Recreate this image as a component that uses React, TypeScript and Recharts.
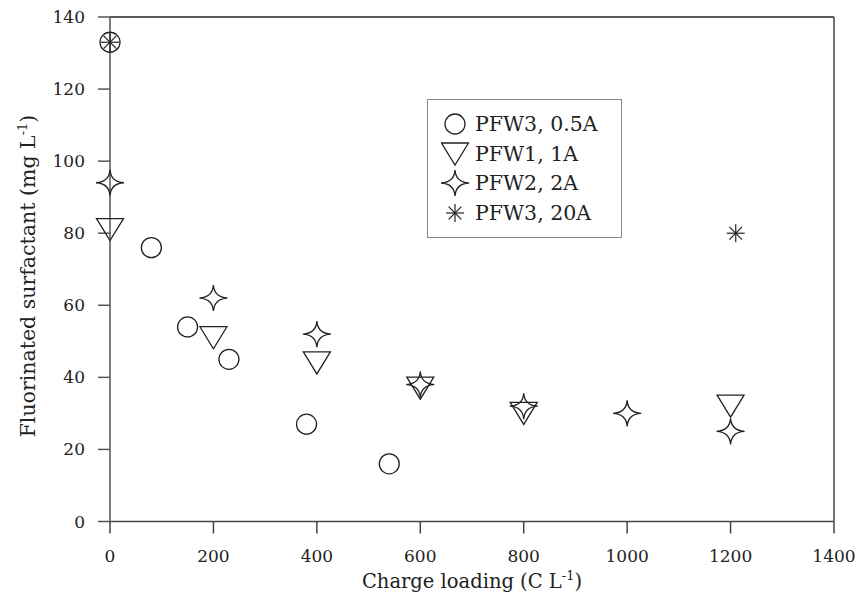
import React from "react";
import { ReferenceLine, Scatter, ScatterChart, XAxis, YAxis } from "recharts";

const circleX = [0, 80, 150, 230, 380, 540];
const circleY = [133, 76, 54, 45, 27, 16];
const triangleX = [0, 200, 400, 600, 800, 1200];
const triangleY = [81, 51, 44, 37, 30, 32];
const starX = [0, 200, 400, 600, 800, 1000, 1200];
const starY = [94, 62, 52, 38, 32, 30, 25];
const asteriskX = [0, 1210];
const asteriskY = [133, 80];

const xTicks = [0, 200, 400, 600, 800, 1000, 1200, 1400];
const yTicks = [0, 20, 40, 60, 80, 100, 120, 140];

const seriesNames = ["PFW3, 0.5A", "PFW1, 1A", "PFW2, 2A", "PFW3, 20A"];

const FONT = "'DejaVu Serif', serif";
const INK = "#222";

function zip(xs: number[], ys: number[]) {
  return xs.map((x, i) => ({ x, y: ys[i] }));
}

type Kind = "circle" | "triangle" | "star" | "asterisk";

function Marker({ kind, cx, cy }: { kind: Kind; cx: number; cy: number }) {
  const common = { fill: "none", stroke: INK, strokeWidth: 1.3 };
  if (kind === "circle") {
    return <circle cx={cx} cy={cy} r={10} {...common} />;
  }
  if (kind === "triangle") {
    const d = `M${cx - 13.5},${cy - 11} L${cx + 13.5},${cy - 11} L${cx},${cy + 11} Z`;
    return <path d={d} {...common} strokeLinejoin="miter" />;
  }
  if (kind === "star") {
    const w = 14;
    const h = 13;
    const c = 0.8;
    const d =
      `M${cx},${cy - h} Q${cx + c},${cy - c} ${cx + w},${cy} ` +
      `Q${cx + c},${cy + c} ${cx},${cy + h} ` +
      `Q${cx - c},${cy + c} ${cx - w},${cy} ` +
      `Q${cx - c},${cy - c} ${cx},${cy - h} Z`;
    return <path d={d} {...common} />;
  }
  const r = 9;
  const k = r * 0.7071;
  return (
    <g stroke={INK} strokeWidth={1.2}>
      <line x1={cx} y1={cy - r} x2={cx} y2={cy + r} />
      <line x1={cx - r} y1={cy} x2={cx + r} y2={cy} />
      <line x1={cx - k} y1={cy - k} x2={cx + k} y2={cy + k} />
      <line x1={cx - k} y1={cy + k} x2={cx + k} y2={cy - k} />
    </g>
  );
}

const kinds: Kind[] = ["circle", "triangle", "star", "asterisk"];

function LegendBox() {
  return (
    <div
      style={{
        position: "absolute",
        left: 427,
        top: 99,
        width: 195,
        height: 139,
        boxSizing: "border-box",
        border: "1.5px solid #888",
        background: "#fff",
        padding: "9px 0 0 13px",
        fontFamily: FONT,
        fontSize: 20.5,
        color: INK,
        whiteSpace: "nowrap",
      }}
    >
      {seriesNames.map((name, i) => (
        <div key={name} style={{ display: "flex", alignItems: "center", height: 29.7 }}>
          <svg width={30} height={28} style={{ marginRight: 4 }}>
            <Marker kind={kinds[i]} cx={14} cy={14} />
          </svg>
          <span>{name}</span>
        </div>
      ))}
    </div>
  );
}

function YTitle() {
  return (
    <text
      transform="translate(35, 276) rotate(-90)"
      textAnchor="middle"
      fontFamily={FONT}
      fontSize={20.5}
      fill={INK}
    >
      Fluorinated surfactant (mg L
      <tspan dy={-8} fontSize={13}>-1</tspan>
      <tspan dy={8}>)</tspan>
    </text>
  );
}

function XTitle({ viewBox }: any) {
  const cx = viewBox.x + viewBox.width / 2;
  return (
    <text x={cx} y={588} textAnchor="middle" fontFamily={FONT} fontSize={19.5} fill={INK}>
      Charge loading (C L
      <tspan dy={-8} fontSize={13}>-1</tspan>
      <tspan dy={8}>)</tspan>
    </text>
  );
}

export default function App() {
  const tickStyle = { fontFamily: FONT, fontSize: 17, fill: INK };
  const series = [
    zip(circleX, circleY),
    zip(triangleX, triangleY),
    zip(starX, starY),
    zip(asteriskX, asteriskY),
  ];
  return (
    <div style={{ position: "absolute", left: 0, top: 0, width: 858, height: 597, background: "#fff" }}>
      <ScatterChart
        width={858}
        height={597}
        margin={{ top: 17, right: 24, bottom: 35.5, left: 50 }}
      >
        <XAxis
          type="number"
          dataKey="x"
          domain={[0, 1400]}
          ticks={xTicks}
          height={40}
          tickSize={12}
          tickMargin={16}
          stroke="#444"
          strokeWidth={1.5}
          tick={tickStyle}
          label={<XTitle />}
        />
        <YAxis
          type="number"
          dataKey="y"
          domain={[0, 140]}
          ticks={yTicks}
          width={60}
          tickSize={12}
          tickMargin={13}
          stroke="#555"
          strokeWidth={1.5}
          tick={tickStyle}
          label={<YTitle />}
        />
        <ReferenceLine y={140} stroke="#222" strokeWidth={1.5} />
        <ReferenceLine x={1400} stroke="#444" strokeWidth={1.5} />
        {series.map((data, i) => (
          <Scatter
            key={seriesNames[i]}
            name={seriesNames[i]}
            data={data}
            isAnimationActive={false}
            shape={(p: any) => <Marker kind={kinds[i]} cx={p.cx} cy={p.cy} />}
          />
        ))}
      </ScatterChart>
      <LegendBox />
    </div>
  );
}
